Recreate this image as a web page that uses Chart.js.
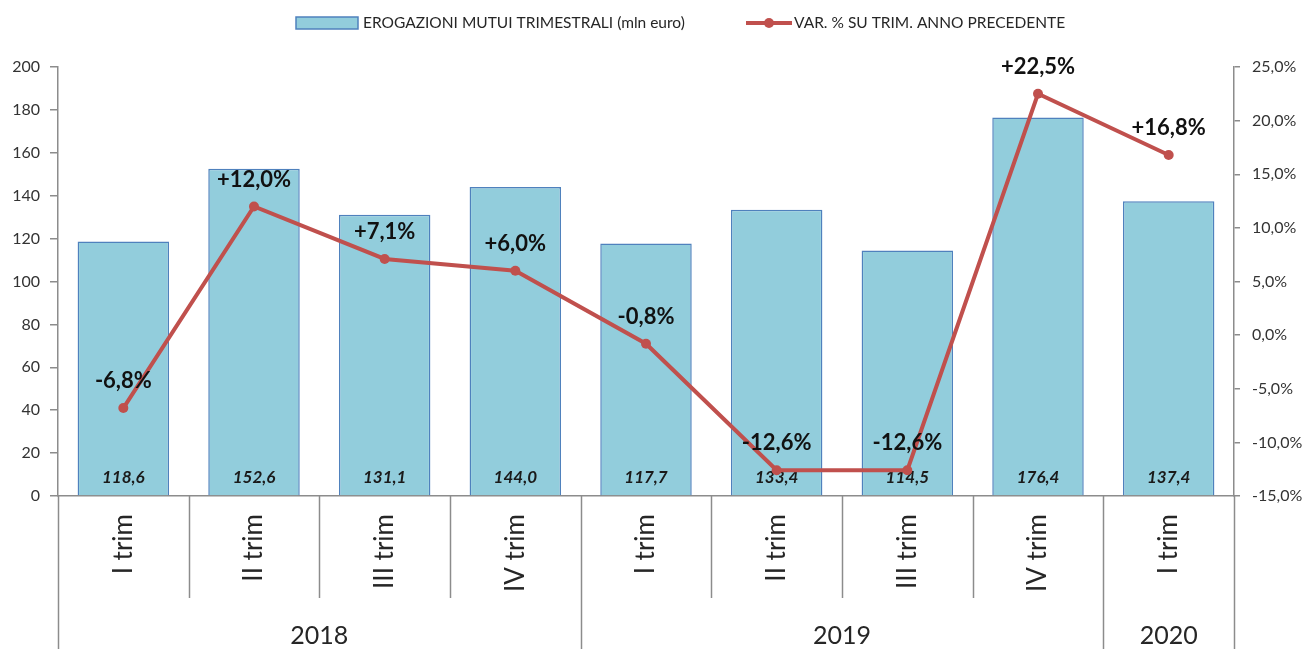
<!DOCTYPE html>
<html>
<head>
<meta charset="utf-8">
<script src="https://cdn.jsdelivr.net/npm/chart.js@4/dist/chart.umd.min.js"></script>
<style>
    html, body { margin: 0; padding: 0; background: #fff; }
    #wrap { width: 1303px; height: 649px; }
</style>
</head>
<body>
<div id="wrap"><canvas id="chart-main"></canvas></div>
<script>
// dati
const quarters = ['I trim', 'II trim', 'III trim', 'IV trim', 'I trim', 'II trim', 'III trim', 'IV trim', 'I trim'];
const years = ['2018', '2019', '2020'];
const quartersPerYear = [4, 4, 1];
const erogazioni = [118.6, 152.6, 131.1, 144.0, 117.7, 133.4, 114.5, 176.4, 137.4];
const variazioni = [-6.8, 12.0, 7.1, 6.0, -0.8, -12.6, -12.6, 22.5, 16.8];

const barLabel = 'EROGAZIONI MUTUI TRIMESTRALI (mln euro)';
const lineLabel = 'VAR. % SU TRIM. ANNO PRECEDENTE';

const BAR_COLOR = '#92CDDC';
const BAR_BORDER = '#4F81BD';
const LINE_COLOR = '#C0504D';
const AXIS_COLOR = '#8c8c8c';
const TEXT_COLOR = '#262626';

Chart.defaults.font.family = 'Lato, "Open Sans", sans-serif';
Chart.defaults.color = TEXT_COLOR;

function fmtNum(v, dec) {
    return v.toFixed(dec).replace('.', ',');
}

// legenda disegnata a mano (centrata come nell'originale)
const legendPlugin = {
    id: 'customLegend',
    afterDraw(chart) {
        const ctx = chart.ctx;
        ctx.save();
        ctx.font = '15.5px Lato, sans-serif';
        ctx.textBaseline = 'middle';
        ctx.fillStyle = TEXT_COLOR;
        const y = 23;
        let x = 296;
        // barra
        ctx.fillStyle = BAR_COLOR;
        ctx.fillRect(x, y - 6, 62, 12);
        ctx.strokeStyle = BAR_BORDER;
        ctx.lineWidth = 1.5;
        ctx.strokeRect(x, y - 6, 62, 12);
        ctx.fillStyle = TEXT_COLOR;
        ctx.textAlign = 'left';
        ctx.fillText(chart.data.datasets[0].label, x + 67, y);
        // linea
        x = 746;
        ctx.strokeStyle = LINE_COLOR;
        ctx.lineWidth = 4;
        ctx.beginPath();
        ctx.moveTo(x, y);
        ctx.lineTo(x + 46, y);
        ctx.stroke();
        ctx.fillStyle = LINE_COLOR;
        ctx.beginPath();
        ctx.arc(x + 23, y, 5, 0, Math.PI * 2);
        ctx.fill();
        ctx.fillStyle = TEXT_COLOR;
        ctx.fillText(chart.data.datasets[1].label, x + 48, y);
        ctx.restore();
    }
};

// separatori delle categorie e etichette degli anni
const groupAxisPlugin = {
    id: 'groupAxis',
    afterDraw(chart) {
        const ctx = chart.ctx;
        const xs = chart.scales.x;
        const top = chart.chartArea.bottom;
        const half = (xs.getPixelForValue(1) - xs.getPixelForValue(0)) / 2;
        const bottom = chart.height;
        ctx.save();
        ctx.strokeStyle = AXIS_COLOR;
        ctx.lineWidth = 1.5;
        // bordi di ogni categoria
        let idx = 0;
        const yearEdges = [0];
        quartersPerYear.forEach(function (n) {
            idx += n;
            yearEdges.push(idx);
        });
        for (let i = 0; i <= quarters.length; i++) {
            const px = Math.round(xs.getPixelForValue(i) - half) + 0.5;
            const isYearEdge = yearEdges.indexOf(i) >= 0;
            ctx.beginPath();
            ctx.moveTo(px, top);
            ctx.lineTo(px, isYearEdge ? bottom : 598);
            ctx.stroke();
        }
        // anni
        ctx.font = '25px Lato, sans-serif';
        ctx.fillStyle = TEXT_COLOR;
        ctx.textAlign = 'center';
        ctx.textBaseline = 'middle';
        for (let g = 0; g < years.length; g++) {
            const x0 = xs.getPixelForValue(yearEdges[g]) - half;
            const x1 = xs.getPixelForValue(yearEdges[g + 1]) - half;
            ctx.fillText(years[g], (x0 + x1) / 2, 636);
        }
        ctx.restore();
    }
};

// etichette dei valori
const valueLabelPlugin = {
    id: 'valueLabels',
    afterDatasetDraw(chart, args) {
        if (args.index !== 0) return;
        const ctx = chart.ctx;
        const base = chart.scales.y.getPixelForValue(0);
        ctx.save();
        ctx.font = 'italic bold 17px Lato, sans-serif';
        ctx.fillStyle = '#1a1a1a';
        ctx.textAlign = 'center';
        ctx.textBaseline = 'middle';
        args.meta.data.forEach(function (bar, i) {
            ctx.fillText(fmtNum(erogazioni[i], 1), bar.x, base - 18);
        });
        ctx.restore();
    },
    afterDatasetsDraw(chart) {
        const ctx = chart.ctx;
        const meta = chart.getDatasetMeta(1);
        ctx.save();
        ctx.font = 'bold 22px Lato, sans-serif';
        ctx.fillStyle = '#111';
        ctx.textAlign = 'center';
        ctx.textBaseline = 'middle';
        meta.data.forEach(function (pt, i) {
            const v = variazioni[i];
            const txt = (v > 0 ? '+' : '') + fmtNum(v, 1) + '%';
            ctx.fillText(txt, pt.x, pt.y - 27);
        });
        ctx.restore();
    }
};

const data = {
    labels: quarters,
    datasets: [
        {
            type: 'bar',
            label: barLabel,
            data: erogazioni,
            yAxisID: 'y',
            backgroundColor: BAR_COLOR,
            borderColor: BAR_BORDER,
            borderWidth: 1.5,
            barPercentage: 0.7,
            categoryPercentage: 1.0,
            order: 2
        },
        {
            type: 'line',
            label: lineLabel,
            data: variazioni,
            yAxisID: 'y1',
            borderColor: LINE_COLOR,
            backgroundColor: LINE_COLOR,
            borderWidth: 4,
            pointRadius: 5,
            pointBorderWidth: 0,
            pointBackgroundColor: LINE_COLOR,
            tension: 0,
            fill: false,
            order: 1
        }
    ]
};

const options = {
    responsive: true,
    maintainAspectRatio: false,
    animation: false,
    layout: {
        padding: { top: 67, left: 0, right: 0, bottom: 0 }
    },
    scales: {
        x: {
            type: 'category',
            grid: { display: false, drawTicks: false },
            border: { display: true, color: AXIS_COLOR, width: 1.5 },
            ticks: {
                autoSkip: false,
                minRotation: 90,
                maxRotation: 90,
                padding: 18,
                color: TEXT_COLOR,
                font: { size: 26 }
            },
            afterFit: function (s) { s.height = 153; }
        },
        y: {
            position: 'left',
            min: 0,
            max: 200,
            ticks: {
                stepSize: 20,
                padding: 10,
                color: '#333',
                font: { size: 16 }
            },
            grid: { drawOnChartArea: false, tickLength: 8, color: AXIS_COLOR, lineWidth: 1.5 },
            border: { color: AXIS_COLOR, width: 1.5 },
            afterFit: function (s) { s.width = 58; }
        },
        y1: {
            position: 'right',
            min: -15,
            max: 25,
            ticks: {
                stepSize: 5,
                padding: 12,
                color: '#333',
                font: { size: 16 },
                callback: function (value) { return fmtNum(value, 1) + '%'; }
            },
            grid: { drawOnChartArea: false, tickLength: 6, color: AXIS_COLOR, lineWidth: 1.5 },
            border: { color: AXIS_COLOR, width: 1.5 },
            afterFit: function (s) { s.width = 69; }
        }
    },
    plugins: {
        legend: { display: false },
        tooltip: { enabled: false }
    }
};

const ctx = document.getElementById('chart-main').getContext('2d');
const chart = new Chart(ctx, {
    type: 'bar',
    data: data,
    options: options,
    plugins: [legendPlugin, groupAxisPlugin, valueLabelPlugin]
});
</script>
</body>
</html>
